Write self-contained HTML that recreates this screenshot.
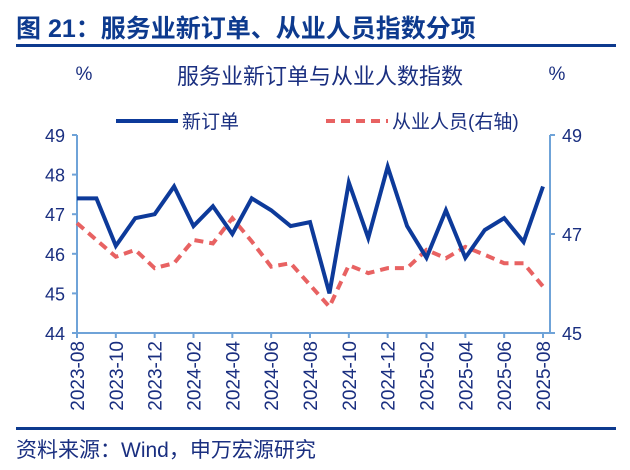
<!DOCTYPE html>
<html><head><meta charset="utf-8"><style>
body{margin:0;background:#fff;width:630px;height:465px;overflow:hidden;font-family:"Liberation Sans","Noto Sans CJK SC",sans-serif}
</style></head><body>
<svg width="630" height="465" font-family="Liberation Sans, Noto Sans CJK SC, sans-serif">
<text x="16" y="37" font-size="25" font-weight="bold" fill="#0d3a8e">图 21：服务业新订单、从业人员指数分项</text>
<rect x="16" y="44" width="600" height="3" fill="#0d3a8e"/>
<text x="320" y="84" font-size="22" fill="#1a2f80" text-anchor="middle">服务业新订单与从业人数指数</text>
<text x="84" y="80" font-size="19" fill="#1a2f80" text-anchor="middle">%</text>
<text x="557" y="80" font-size="19" fill="#1a2f80" text-anchor="middle">%</text>
<g>
<line x1="116" y1="121" x2="178" y2="121" stroke="#0d3a9a" stroke-width="4"/>
<text x="182" y="128" font-size="19" fill="#1a2f80">新订单</text>
<line x1="326" y1="121" x2="388" y2="121" stroke="#e86262" stroke-width="4" stroke-dasharray="9,6"/>
<text x="392" y="128" font-size="19" fill="#1a2f80">从业人员(右轴)</text>
</g>
<g id="axes"></g>
<g id="marks"></g>
<rect x="16" y="427" width="600" height="3" fill="#0d3a8e"/>
<text x="16" y="457" font-size="21" fill="#1a2f80">资料来源：Wind，申万宏源研究</text>
</svg>
<script>
const categories=["2023-08","2023-09","2023-10","2023-11","2023-12","2024-01","2024-02","2024-03","2024-04","2024-05","2024-06","2024-07","2024-08","2024-09","2024-10","2024-11","2024-12","2025-01","2025-02","2025-03","2025-04","2025-05","2025-06","2025-07","2025-08"];
const newOrders=[47.4,47.4,46.2,46.9,47.0,47.7,46.7,47.2,46.5,47.4,47.1,46.7,46.8,45.0,47.8,46.4,48.2,46.7,45.9,47.1,45.9,46.6,46.9,46.3,47.7];
const employment=[47.22,46.88,46.54,46.68,46.31,46.41,46.88,46.81,47.32,46.85,46.34,46.41,45.97,45.53,46.37,46.21,46.31,46.31,46.68,46.51,46.74,46.58,46.41,46.41,45.94];
const leftTicks=[44,45,46,47,48,49];
const rightTicks=[45,47,49];
const NS="http://www.w3.org/2000/svg";
const X0=77,X1=543,YT=135,YB=333,AXR=550;
const x=i=>X0+(X1-X0)*i/(categories.length-1);
const yL=v=>YB-(v-44)/(49-44)*(YB-YT);
const yR=v=>YB-(v-45)/(49-45)*(YB-YT);
function mk(tag,attrs,parent){const e=document.createElementNS(NS,tag);for(const k in attrs)e.setAttribute(k,attrs[k]);parent.appendChild(e);return e;}
const ax=document.getElementById('axes'),mg=document.getElementById('marks');
const AC="#6fa3d8",TC="#1a2f80";
let e=mk('line',{x1:X0,y1:YT,x2:X0,y2:YB,stroke:AC,'stroke-width':2},ax);


e=mk('line',{x1:AXR,y1:YT,x2:AXR,y2:YB,stroke:AC,'stroke-width':2},ax);


e=mk('line',{x1:X0-5,y1:YB,x2:AXR+5,y2:YB,stroke:AC,'stroke-width':2},ax);


leftTicks.forEach(v=>{
 mk('line',{x1:X0-5,y1:yL(v),x2:X0,y2:yL(v),stroke:AC,'stroke-width':2},ax);
 const t=mk('text',{x:X0-12,y:yL(v)+7,'font-size':18,fill:TC,'text-anchor':'end'},ax);t.textContent=v;
 
 
});
rightTicks.forEach(v=>{
 mk('line',{x1:AXR,y1:yR(v),x2:AXR+5,y2:yR(v),stroke:AC,'stroke-width':2},ax);
 const t=mk('text',{x:AXR+12,y:yR(v)+7,'font-size':18,fill:TC},ax);t.textContent=v;
 
 
});
categories.forEach((c,i)=>{
 if(i%2)return;
 mk('line',{x1:x(i),y1:YB,x2:x(i),y2:YB+5,stroke:AC,'stroke-width':2},ax);
 const t=mk('text',{x:0,y:0,'font-size':19,fill:TC,'text-anchor':'end',transform:`translate(${x(i)+7},${YB+8}) rotate(-90)`},ax);t.textContent=c;
 
 
});
e=mk('polyline',{points:employment.map((v,i)=>x(i)+','+yR(v)).join(' '),fill:'none',stroke:'#e86262','stroke-width':4,'stroke-dasharray':'9,6'},mg);


e=mk('polyline',{points:newOrders.map((v,i)=>x(i)+','+yL(v)).join(' '),fill:'none',stroke:'#0d3a9a','stroke-width':4,'stroke-linejoin':'miter'},mg);


</script>
</body></html>
